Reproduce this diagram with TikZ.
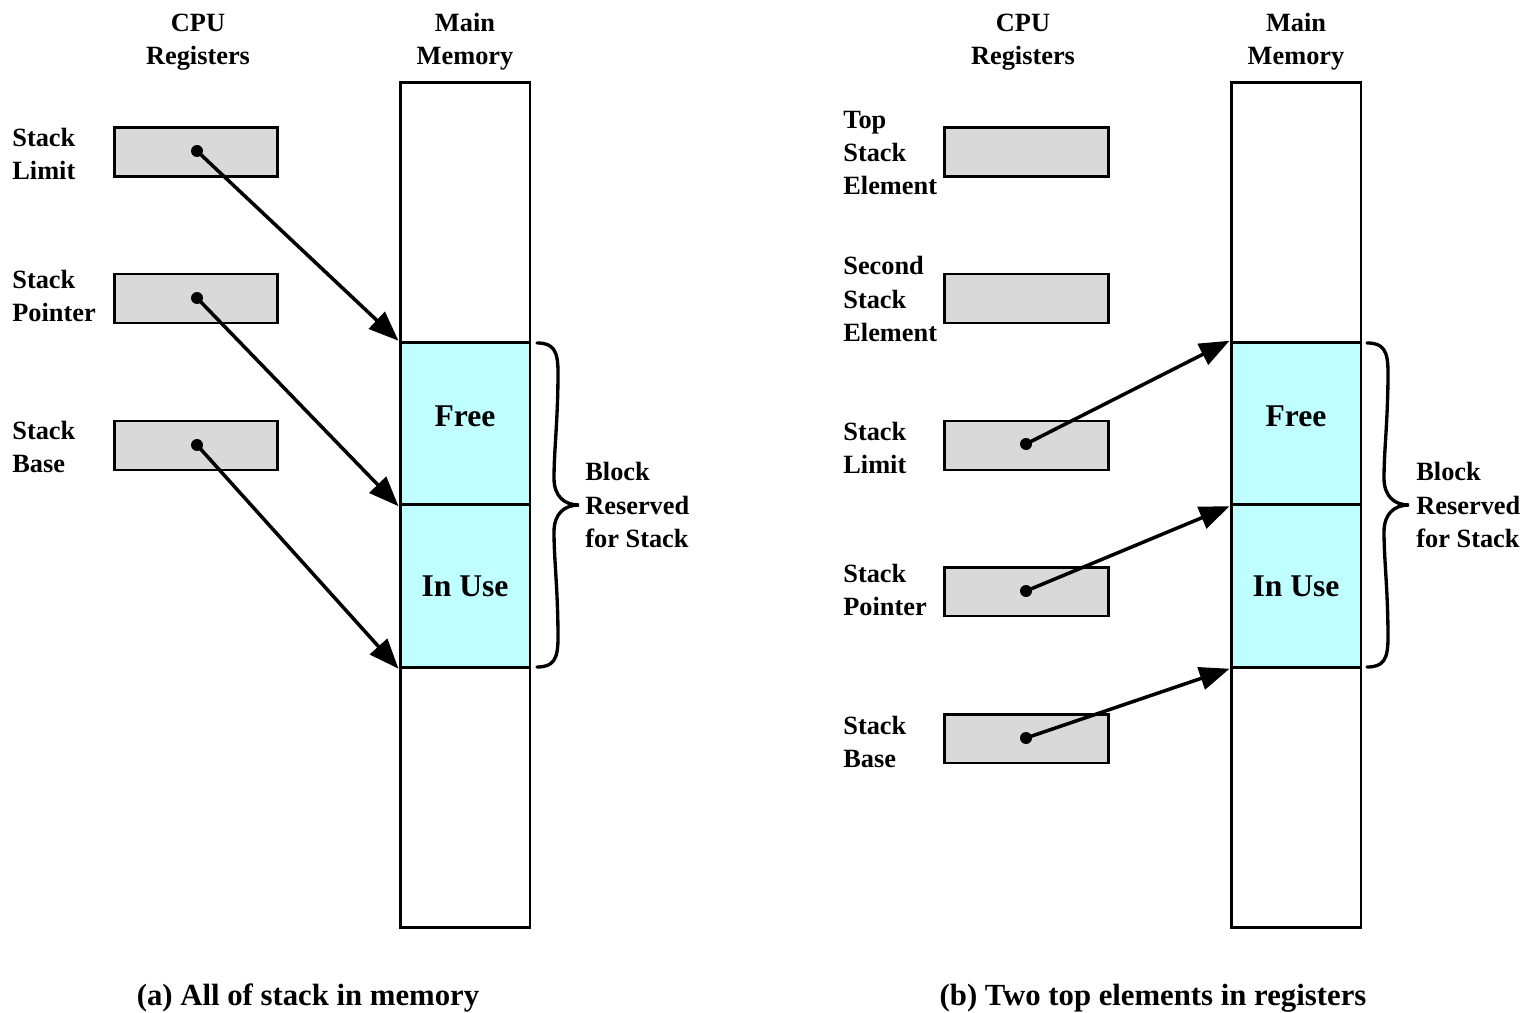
\documentclass[tikz,border=0pt]{standalone}
\usepackage{fontspec}
\setmainfont{Liberation Serif}
\usetikzlibrary{arrows.meta}
\definecolor{regfill}{HTML}{D9D9D9}
\definecolor{cyanfill}{HTML}{BFFFFF}
\begin{document}
\begin{tikzpicture}[x=0.02cm,y=-0.02cm,
 reg/.style={draw, line width=1.7pt, fill=regfill, minimum width=3.28cm, minimum height=0.98cm, inner sep=0},
 memcol/.style={draw, line width=1.7pt, minimum width=2.6cm, minimum height=16.92cm, inner sep=0},
 blk/.style={draw, line width=1.7pt, fill=cyanfill, minimum width=2.6cm, minimum height=3.25cm, inner sep=0},
 blktxt/.style={inner sep=0, font=\fontsize{18}{22}\selectfont\bfseries},
 lbl/.style={anchor=west, align=left, inner sep=0, font=\fontsize{15}{18.8}\selectfont\bfseries},
 hdr/.style={align=center, inner sep=0, font=\fontsize{15}{18.8}\selectfont\bfseries},
 captxt/.style={inner sep=0, font=\fontsize{17.5}{21}\selectfont\bfseries},
 regdot/.style={circle, fill=black, minimum size=0.24cm, inner sep=0},
 ptr/.style={line width=2pt, -{Triangle[length=0.6cm,width=0.46cm]}},
 curlystyle/.style={line width=1.9pt, line cap=round}
]
\useasboundingbox (0,0) rectangle (1531,1013);

% ---------- Panel (a) ----------
\node[hdr] (hcpu1) at (198,42) {CPU\\Registers};
\node[hdr] (hmem1) at (465,42) {Main\\Memory};
\node[memcol] (mem1) at (465,505) {};
\node[blk] (free1) at (465,423.5) {};
\node[blk] (use1) at (465,586) {};
\node[blktxt] (tfree1) at (465,416) {Free};
\node[blktxt] (tuse1) at (465,586) {In Use};

\node[reg] (ra1) at (196,152) {};
\node[reg] (ra2) at (196,298.5) {};
\node[reg] (ra3) at (196,445.5) {};
\node[lbl] (la1) at (12,154) {Stack\\Limit};
\node[lbl] (la2) at (12,296) {Stack\\Pointer};
\node[lbl] (la3) at (12,447) {Stack\\Base};
\node[regdot] (da1) at (197,151) {};
\node[regdot] (da2) at (197,298) {};
\node[regdot] (da3) at (197,445) {};
\draw[ptr] (da1.center) -- (free1.north west);
\draw[ptr] (da2.center) -- (free1.south west);
\draw[ptr] (da3.center) -- (use1.south west);

\draw[curlystyle] (537,343) .. controls (553,343) and (558,350) .. (558,372)
  .. controls (558,420) and (554,450) .. (554,478)
  .. controls (554,496) and (564,505) .. (579,505)
  .. controls (564,505) and (554,514) .. (554,532)
  .. controls (554,560) and (558,590) .. (558,638)
  .. controls (558,660) and (553,667) .. (537,667);
\node[lbl] (blk1) at (585,505) {Block\\Reserved\\for Stack};
\node[captxt] (cap1) at (308,998) {(a) All of stack in memory};

% ---------- Panel (b) ----------
\node[hdr] (hcpu2) at (1023,42) {CPU\\Registers};
\node[hdr] (hmem2) at (1296,42) {Main\\Memory};
\node[memcol] (mem2) at (1296,505) {};
\node[blk] (free2) at (1296,423.5) {};
\node[blk] (use2) at (1296,586) {};
\node[blktxt] (tfree2) at (1296,416) {Free};
\node[blktxt] (tuse2) at (1296,586) {In Use};

\node[reg] (rb1) at (1026.5,152) {};
\node[reg] (rb2) at (1026.5,298.5) {};
\node[reg] (rb3) at (1026.5,445.5) {};
\node[reg] (rb4) at (1026.5,591.5) {};
\node[reg] (rb5) at (1026.5,738.5) {};
\node[lbl] (lb1) at (843,153) {Top\\Stack\\Element};
\node[lbl] (lb2) at (843,299) {Second\\Stack\\Element};
\node[lbl] (lb3) at (843,448) {Stack\\Limit};
\node[lbl] (lb4) at (843,590) {Stack\\Pointer};
\node[lbl] (lb5) at (843,742) {Stack\\Base};
\node[regdot] (db3) at (1026,444) {};
\node[regdot] (db4) at (1026,591) {};
\node[regdot] (db5) at (1026,738) {};
\draw[ptr] (db3.center) -- (free2.north west);
\draw[ptr] (db4.center) -- (free2.south west);
\draw[ptr] (db5.center) -- (use2.south west);

\draw[curlystyle, shift={(830,0)}] (537,343) .. controls (553,343) and (558,350) .. (558,372)
  .. controls (558,420) and (554,450) .. (554,478)
  .. controls (554,496) and (564,505) .. (579,505)
  .. controls (564,505) and (554,514) .. (554,532)
  .. controls (554,560) and (558,590) .. (558,638)
  .. controls (558,660) and (553,667) .. (537,667);
\node[lbl] (blk2) at (1416,505) {Block\\Reserved\\for Stack};
\node[captxt] (cap2) at (1153,998) {(b) Two top elements in registers};
\end{tikzpicture}
\end{document}
